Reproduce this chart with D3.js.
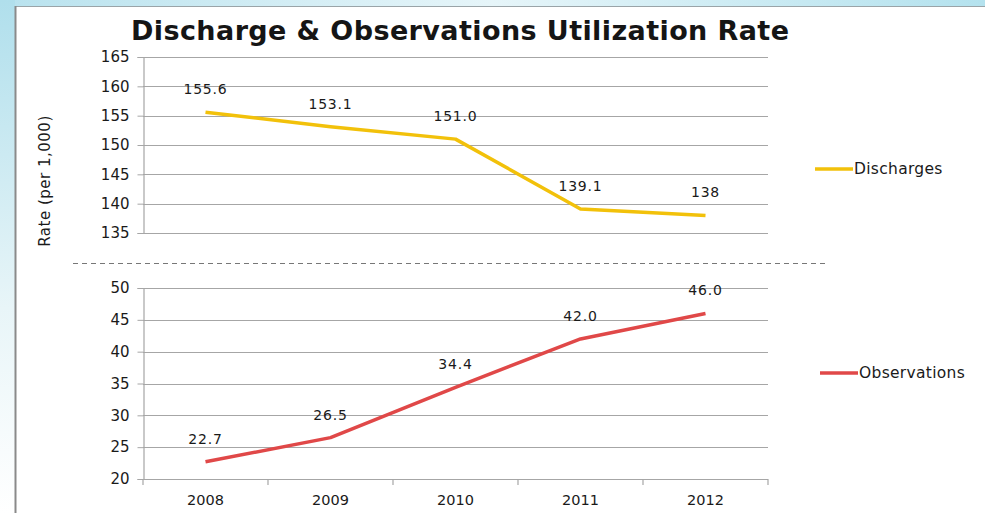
<!DOCTYPE html>
<html>
<head>
<meta charset="utf-8">
<script src="https://cdn.jsdelivr.net/npm/d3@7/dist/d3.min.js"></script>
<style>
  html, body { margin: 0; padding: 0; background: #fff; }
  svg { display: block; }
</style>
</head>
<body>
<svg id="chart" width="985" height="513"></svg>
<script>
// Utilization rates per 1,000
const years = ["2008", "2009", "2010", "2011", "2012"];
const discharges = [155.6, 153.1, 151.0, 139.1, 138];
const observations = [22.7, 26.5, 34.4, 42.0, 46.0];
const dischargeLabels = ["155.6", "153.1", "151.0", "139.1", "138"];
const observationLabels = ["22.7", "26.5", "34.4", "42.0", "46.0"];
const dischargeTicks = [135, 140, 145, 150, 155, 160, 165];
const observationTicks = [20, 25, 30, 35, 40, 45, 50];

const svg = d3.select("#chart");
const W = 985, H = 513;
const font = "'DejaVu Sans', Verdana, sans-serif";
const ink = "#1a1a1a";

// Slide backdrop
const defs = svg.append("defs");
const gTop = defs.append("linearGradient").attr("id", "bgTop").attr("x1", 0).attr("x2", 1).attr("y1", 0).attr("y2", 0);
gTop.append("stop").attr("offset", "0").attr("stop-color", "#b8e2ee");
gTop.append("stop").attr("offset", "0.5").attr("stop-color", "#e6f5f9");
gTop.append("stop").attr("offset", "1").attr("stop-color", "#b4e2ee");
const gLeft = defs.append("linearGradient").attr("id", "bgLeft").attr("x1", 0).attr("x2", 0).attr("y1", 0).attr("y2", 1);
gLeft.append("stop").attr("offset", "0").attr("stop-color", "#b0dfec");
gLeft.append("stop").attr("offset", "0.6").attr("stop-color", "#e8f5f8");
gLeft.append("stop").attr("offset", "1").attr("stop-color", "#ffffff");

svg.append("rect").attr("width", W).attr("height", H).attr("fill", "#ffffff");
svg.append("rect").attr("width", W).attr("height", 7).attr("fill", "url(#bgTop)");
svg.append("rect").attr("width", 15).attr("height", H).attr("fill", "url(#bgLeft)");
svg.append("line").attr("x1", 15).attr("x2", W).attr("y1", 6.5).attr("y2", 6.5)
  .attr("stroke", "#9aa4a8").attr("stroke-width", 1.2);
svg.append("line").attr("x1", 15.5).attr("x2", 15.5).attr("y1", 6).attr("y2", H)
  .attr("stroke", "#8a8a8a").attr("stroke-width", 2);

// Title
svg.append("text")
  .attr("x", 460).attr("y", 40)
  .attr("text-anchor", "middle")
  .attr("font-family", font)
  .attr("font-weight", "bold")
  .attr("font-size", 27)
  .attr("textLength", 658)
  .attr("lengthAdjust", "spacing")
  .attr("fill", "#151515")
  .text("Discharge & Observations Utilization Rate");

// Shared category scale
const x = d3.scaleBand().domain(years).range([143, 768]);
const xc = d => x(d) + x.bandwidth() / 2;

const yTop = d3.scaleLinear().domain([135, 165]).range([233, 57]);
const yBot = d3.scaleLinear().domain([20, 50]).range([479, 288]);

function panel(y, ticks, values, labels, color, showX) {
  const g = svg.append("g");
  // gridlines
  g.selectAll("line.grid").data(ticks).join("line")
    .attr("x1", 143).attr("x2", 768)
    .attr("y1", d => Math.round(y(d)) + 0.5).attr("y2", d => Math.round(y(d)) + 0.5)
    .attr("stroke", "#a6a6a6").attr("stroke-width", 1.2);
  // y axis
  const ax = g.append("g").attr("transform", "translate(143.5,0)")
    .call(d3.axisLeft(y).tickValues(ticks).tickSize(6).tickPadding(8).tickFormat(d3.format("d")));
  ax.select(".domain").attr("stroke", "#a6a6a6").attr("stroke-width", 1.2);
  ax.selectAll(".tick line").attr("stroke", "#a6a6a6");
  ax.selectAll("text").attr("font-family", font).attr("font-size", 15).attr("fill", ink);
  if (showX) {
    const xa = g.append("g").attr("transform", `translate(0,${Math.round(y(20)) + 0.5})`)
      .call(d3.axisBottom(x).tickSize(0).tickPadding(15));
    xa.select(".domain").remove();
    xa.selectAll("text").attr("font-family", font).attr("font-size", 14.5).attr("fill", ink);
    g.selectAll("line.xt").data(d3.range(years.length + 1)).join("line")
      .attr("x1", i => 143 + i * x.bandwidth()).attr("x2", i => 143 + i * x.bandwidth())
      .attr("y1", y(20)).attr("y2", y(20) + 6)
      .attr("stroke", "#a6a6a6").attr("stroke-width", 1.2);
  }
  // series line
  const line = d3.line().x((d, i) => xc(years[i])).y(d => y(d));
  g.append("path").datum(values)
    .attr("d", line).attr("fill", "none")
    .attr("stroke", color).attr("stroke-width", 3.5)
    .attr("stroke-linejoin", "round");
  // value labels
  g.selectAll("text.val").data(values).join("text")
    .attr("x", (d, i) => xc(years[i]))
    .attr("y", d => y(d) - 18)
    .attr("text-anchor", "middle")
    .attr("font-family", font).attr("font-size", 14).attr("letter-spacing", 0.8)
    .attr("fill", ink)
    .text((d, i) => labels[i]);
}

panel(yTop, dischargeTicks, discharges, dischargeLabels, "#f2c10a", false);
panel(yBot, observationTicks, observations, observationLabels, "#e04848", true);

// Divider between panels
svg.append("line")
  .attr("x1", 73).attr("x2", 826).attr("y1", 263.5).attr("y2", 263.5)
  .attr("stroke", "#777").attr("stroke-width", 1).attr("stroke-dasharray", "5,4");

// Y axis title
svg.append("text")
  .attr("transform", "translate(50,181) rotate(-90)")
  .attr("text-anchor", "middle")
  .attr("font-family", font).attr("font-size", 15).attr("letter-spacing", 0.5).attr("fill", ink)
  .text("Rate (per 1,000)");

// Legends
const legend = [
  { name: "Discharges", color: "#f2c10a", x: 815, y: 169 },
  { name: "Observations", color: "#e04848", x: 820, y: 373 }
];
const lg = svg.selectAll("g.legend").data(legend).join("g")
  .attr("transform", d => `translate(${d.x},${d.y})`);
lg.append("line").attr("x1", 0).attr("x2", 38).attr("y1", 0).attr("y2", 0)
  .attr("stroke", d => d.color).attr("stroke-width", 3.5);
lg.append("text").attr("x", 39).attr("y", 5)
  .attr("font-family", font).attr("font-size", 15.5).attr("letter-spacing", 0.3).attr("fill", ink)
  .text(d => d.name);
</script>
</body>
</html>
